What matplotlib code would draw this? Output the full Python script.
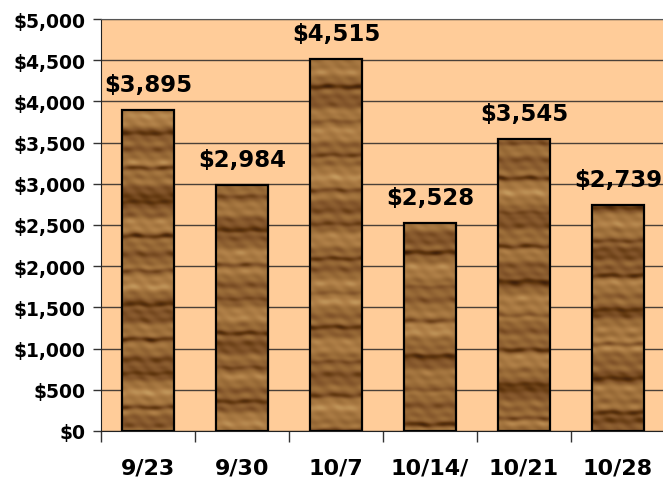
import matplotlib
matplotlib.use("Agg")
import matplotlib.pyplot as plt
import matplotlib.ticker as mticker
from matplotlib.colors import LinearSegmentedColormap
import numpy as np

# ── data ──────────────────────────────────────────────────────────────────────
weeks = ["9/23", "9/30", "10/7", "10/14/", "10/21", "10/28"]
sales = [3895, 2984, 4515, 2528, 3545, 2739]

# ── visual settings ───────────────────────────────────────────────────────────
plot_bg = "#FFCC99"
grid_color = "#4a4038"
wood = LinearSegmentedColormap.from_list(
    "wood", ["#40200a", "#62380f", "#82542a", "#9a6c38", "#b08048", "#c49a5e"])

plt.rcParams.update({
    "font.family": "DejaVu Sans",
    "font.weight": "bold",
})


# deterministic wood-grain texture: straight horizontal streaks, blotchy across
def wood_texture(seed, rows=420, cols=60):
    y = np.linspace(0, 1, rows)[:, None]
    x = np.linspace(0, 1, cols)[None, :]
    yy = y + 0.0015 * np.sin(2 * np.pi * (x * 1.5 + seed * 0.37))
    blotch = 0.7 + 0.3 * np.sin(2 * np.pi * (x * 1.8 + yy * 6 + seed * 0.9))
    t = (0.58
         + 0.12 * np.sin(2 * np.pi * (yy * 7.3 + seed * 0.61))
         + 0.09 * blotch * np.sin(2 * np.pi * (yy * 19.7 + seed * 1.37))
         + 0.07 * blotch * np.sin(2 * np.pi * (yy * 43.0 + seed * 0.29))
         + 0.05 * np.sin(2 * np.pi * (yy * 2.9 + seed * 2.1))
         + 0.04 * np.sin(2 * np.pi * (x * 3.3 + yy * 27 + seed)))
    dark = np.sin(np.pi * (yy * 12.0 + seed * 0.83)) ** 30
    t = t - 0.3 * dark * (0.6 + 0.4 * blotch)
    return np.clip(t, 0, 1)


fig = plt.figure(figsize=(6.63, 4.81), dpi=100)
ax = fig.add_axes([0.1523, 0.1019, 0.8507, 0.8565])
ax.set_facecolor(plot_bg)

x = np.arange(len(weeks))
bars = ax.bar(x, sales, width=0.55, facecolor="none", edgecolor="black",
              linewidth=1.6, zorder=3)

for i, (bar, val) in enumerate(zip(bars, sales)):
    x0 = bar.get_x()
    im = ax.imshow(wood_texture(i + 1), cmap=wood, aspect="auto",
                   extent=[x0, x0 + bar.get_width(), 0, 5000],
                   origin="lower", zorder=2, interpolation="bilinear")
    im.set_clip_path(bar)
    ax.annotate(f"${val:,}", xy=(bar.get_x() + bar.get_width() / 2, val),
                xytext=(0, 10), textcoords="offset points",
                ha="center", va="bottom", fontsize=16.5, fontweight="bold")

ax.set_xlim(-0.5, len(weeks) - 0.5)
ax.set_ylim(0, 5000)
ax.yaxis.set_major_locator(mticker.MultipleLocator(500))
ax.yaxis.set_major_formatter(mticker.FuncFormatter(lambda v, _: f"${v:,.0f}"))
ax.grid(axis="y", color=grid_color, linewidth=1, zorder=1)
ax.set_axisbelow(True)

# category ticks sit on the boundaries, labels in the middle
ax.set_xticks(np.arange(len(weeks) + 1) - 0.5)
ax.set_xticklabels([])
ax.set_xticks(x, minor=True)
ax.set_xticklabels(weeks, minor=True, fontsize=16, fontweight="bold")
ax.tick_params(axis="x", which="major", length=8, width=1, color="#333333")
ax.tick_params(axis="x", which="minor", length=0, pad=19)
ax.tick_params(axis="y", length=6, width=1, color="#333333", labelsize=13.5,
               pad=5)

for s in ax.spines.values():
    s.set_color("#555555")
ax.spines["right"].set_visible(False)
ax.spines["left"].set_color("#222222")
ax.spines["bottom"].set_color("#222222")

fig.savefig("out.png", dpi=100)
